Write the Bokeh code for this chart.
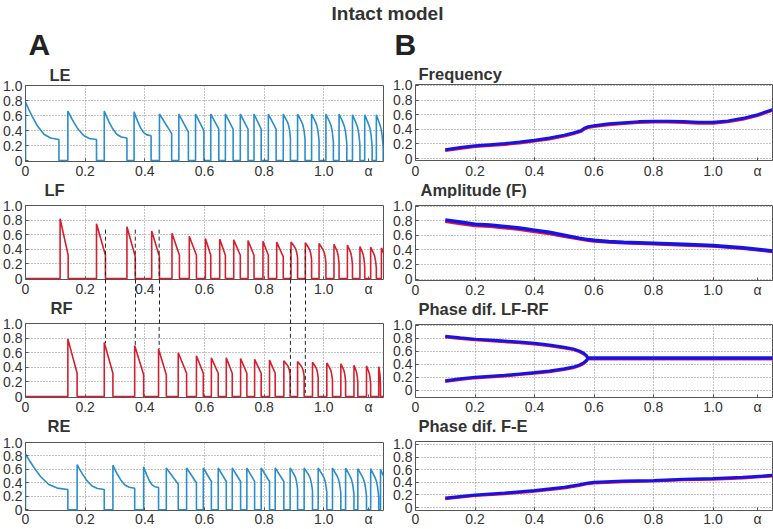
from bokeh.plotting import figure
from bokeh.models import FixedTicker, Range1d, Label, LinearAxis, Title
from bokeh.layouts import column, row
from bokeh.embed import file_html
from bokeh.resources import INLINE

FONT = "Liberation Sans"

# ---------------- axis ticks ----------------
alpha_ticks = [0, 0.2, 0.4, 0.6, 0.8, 1.0, 1.15]
alpha_tick_labels = ["0", "0.2", "0.4", "0.6", "0.8", "1.0", "α"]
alpha_grid = [0.2, 0.4, 0.6, 0.8, 1.0]
y_ticks = [0, 0.2, 0.4, 0.6, 0.8, 1.0]
y_tick_labels = ["0", "0.2", "0.4", "0.6", "0.8", "1.0"]

# ---------------- panel A: burst data ----------------
LE_on = [0.0, 0.142, 0.264, 0.364, 0.449, 0.514, 0.570, 0.621, 0.670, 0.720, 0.766, 0.814, 0.864, 0.912, 0.959, 1.007, 1.051, 1.096, 1.137, 1.176]
LE_off = [0.112, 0.238, 0.340, 0.421, 0.490, 0.546, 0.598, 0.648, 0.696, 0.746, 0.790, 0.840, 0.888, 0.937, 0.984, 1.032, 1.077, 1.121, 1.162, 1.199]
LE_peak = [0.78, 0.66, 0.66, 0.65, 0.62, 0.62, 0.62, 0.62, 0.62, 0.62, 0.62, 0.62, 0.62, 0.62, 0.62, 0.62, 0.62, 0.61, 0.61, 0.61]
LE_end = [0.28, 0.28, 0.30, 0.33, 0.36, 0.38, 0.40, 0.42, 0.42, 0.42, 0.42, 0.42, 0.30, 0.28, 0.26, 0.24, 0.22, 0.20, 0.18, 0.16]
LE_shape = ["exp", "exp", "exp", "exp", "lin", "lin", "lin", "lin", "lin", "lin", "lin", "lin",
            "round", "round", "round", "round", "round", "round", "round", "round"]

LF_on = [0.116, 0.238, 0.340, 0.423, 0.491, 0.549, 0.603, 0.651, 0.698, 0.746, 0.796, 0.842, 0.890, 0.938, 0.984, 1.034, 1.079, 1.121, 1.157, 1.193]
LF_off = [0.143, 0.268, 0.368, 0.449, 0.516, 0.573, 0.621, 0.670, 0.720, 0.766, 0.814, 0.864, 0.912, 0.959, 1.007, 1.051, 1.096, 1.137, 1.176, 1.210]
LF_peak = [0.82, 0.75, 0.71, 0.65, 0.62, 0.58, 0.55, 0.54, 0.53, 0.52, 0.51, 0.50, 0.50, 0.49, 0.48, 0.47, 0.46, 0.44, 0.43, 0.42]
LF_end = [0.32, 0.32, 0.30, 0.30, 0.32, 0.32, 0.32, 0.32, 0.32, 0.32, 0.32, 0.30, 0.28, 0.26, 0.22, 0.20, 0.18, 0.16, 0.14, 0.12]
LF_shape = ["lin"] * 12 + ["round"] * 8

RF_on = [0.142, 0.264, 0.366, 0.446, 0.512, 0.573, 0.623, 0.673, 0.721, 0.768, 0.818, 0.866, 0.912, 0.962, 1.010, 1.057, 1.101, 1.143, 1.184]
RF_off = [0.173, 0.293, 0.396, 0.472, 0.540, 0.596, 0.646, 0.693, 0.742, 0.790, 0.837, 0.887, 0.934, 0.981, 1.029, 1.073, 1.114, 1.157, 1.190]
RF_peak = [0.79, 0.74, 0.70, 0.65, 0.60, 0.56, 0.53, 0.53, 0.52, 0.51, 0.50, 0.49, 0.48, 0.47, 0.46, 0.45, 0.43, 0.42, 0.41]
RF_end = [0.32, 0.32, 0.30, 0.30, 0.32, 0.32, 0.32, 0.32, 0.32, 0.32, 0.32, 0.30, 0.28, 0.26, 0.22, 0.20, 0.18, 0.16, 0.14]
RF_shape = ["lin"] * 11 + ["round"] * 8

RE_on = [0.0, 0.173, 0.293, 0.396, 0.472, 0.540, 0.596, 0.646, 0.693, 0.742, 0.790, 0.837, 0.887, 0.934, 0.981, 1.029, 1.073, 1.114, 1.157, 1.190]
RE_off = [0.142, 0.264, 0.366, 0.446, 0.512, 0.573, 0.623, 0.673, 0.721, 0.768, 0.818, 0.866, 0.912, 0.962, 1.010, 1.057, 1.101, 1.143, 1.184, 1.215]
RE_peak = [0.83, 0.67, 0.66, 0.64, 0.62, 0.62, 0.62, 0.62, 0.62, 0.62, 0.62, 0.62, 0.62, 0.62, 0.62, 0.62, 0.62, 0.61, 0.61, 0.60]
RE_end = [0.30, 0.30, 0.32, 0.33, 0.38, 0.40, 0.42, 0.42, 0.42, 0.42, 0.42, 0.42, 0.30, 0.28, 0.26, 0.24, 0.22, 0.20, 0.18, 0.16]
RE_shape = ["exp", "exp", "exp", "exp", "lin", "lin", "lin", "lin", "lin", "lin", "lin", "lin",
            "round", "round", "round", "round", "round", "round", "round", "round"]

# normalized burst profiles: (fraction of burst, fraction of peak->end drop)
PROFILES = {
    "exp": ([0.0, 0.1, 0.2, 0.36, 0.55, 0.75, 1.0], [1.0, 0.8, 0.62, 0.36, 0.14, 0.04, 0.0]),
    "lin": ([0.0, 1.0], [1.0, 0.0]),
    "round": ([0.0, 0.5, 0.7, 0.85, 0.95, 1.0], [1.0, 0.72, 0.58, 0.38, 0.15, 0.0]),
}

# dashed connector lines between LF and RF
dash_x = [0.268, 0.368, 0.448, 0.888, 0.938]
dash_top_LF = [0.67, 0.67, 0.67, 0.40, 0.40]
dash_bottom_RF = [0.73, 0.70, 0.65, 0.05, 0.05]

# ---------------- panel B data ----------------
freq_alpha = [0.1, 0.15, 0.2, 0.25, 0.3, 0.35, 0.4, 0.45, 0.5, 0.53, 0.555, 0.57, 0.58, 0.6, 0.65, 0.7, 0.75, 0.8, 0.85, 0.9, 0.95, 1.0, 1.05, 1.1, 1.15, 1.2]
freq_blue = [0.12, 0.15, 0.175, 0.19, 0.205, 0.225, 0.25, 0.28, 0.32, 0.35, 0.38, 0.42, 0.435, 0.45, 0.475, 0.49, 0.505, 0.51, 0.51, 0.505, 0.495, 0.495, 0.515, 0.55, 0.60, 0.67]
freq_red = [0.105, 0.135, 0.16, 0.175, 0.19, 0.21, 0.235, 0.265, 0.305, 0.335, 0.365, 0.405, 0.42, 0.435, 0.46, 0.475, 0.49, 0.495, 0.495, 0.49, 0.48, 0.48, 0.50, 0.535, 0.585, 0.655]

amp_alpha = [0.1, 0.15, 0.2, 0.25, 0.3, 0.35, 0.4, 0.45, 0.5, 0.55, 0.58, 0.6, 0.65, 0.7, 0.8, 0.9, 1.0, 1.1, 1.2]
amp_blue = [0.81, 0.78, 0.75, 0.74, 0.72, 0.70, 0.67, 0.64, 0.60, 0.56, 0.54, 0.53, 0.515, 0.505, 0.49, 0.475, 0.46, 0.43, 0.385]
amp_red = [0.785, 0.755, 0.725, 0.715, 0.695, 0.675, 0.645, 0.615, 0.58, 0.545, 0.525, 0.515, 0.50, 0.49, 0.475, 0.46, 0.445, 0.415, 0.37]

ph_alpha = [0.1, 0.15, 0.2, 0.25, 0.3, 0.35, 0.4, 0.45, 0.5, 0.53, 0.55, 0.565, 0.575, 0.58, 0.6, 0.8, 1.0, 1.2]
ph_upper_blue = [0.835, 0.81, 0.79, 0.775, 0.76, 0.745, 0.725, 0.70, 0.665, 0.64, 0.61, 0.575, 0.535, 0.5, 0.5, 0.5, 0.5, 0.5]
ph_lower_blue = [0.15, 0.18, 0.205, 0.22, 0.235, 0.255, 0.275, 0.30, 0.335, 0.36, 0.39, 0.425, 0.465, 0.5, 0.5, 0.5, 0.5, 0.5]
ph_upper_red = [0.82, 0.795, 0.775, 0.76, 0.745, 0.73, 0.71, 0.685, 0.65, 0.625, 0.595, 0.56, 0.52, 0.485, 0.485, 0.485, 0.485, 0.485]
ph_lower_red = [0.135, 0.165, 0.19, 0.205, 0.22, 0.24, 0.26, 0.285, 0.32, 0.345, 0.375, 0.41, 0.45, 0.485, 0.485, 0.485, 0.485, 0.485]

fe_alpha = [0.1, 0.2, 0.3, 0.4, 0.5, 0.55, 0.58, 0.6, 0.7, 0.8, 0.9, 1.0, 1.1, 1.2]
fe_blue = [0.15, 0.20, 0.23, 0.27, 0.32, 0.36, 0.39, 0.40, 0.42, 0.43, 0.45, 0.46, 0.48, 0.51]
fe_red = [0.135, 0.185, 0.215, 0.255, 0.305, 0.345, 0.375, 0.385, 0.405, 0.415, 0.435, 0.445, 0.465, 0.495]

BLUE_A = "#2a8dcc"
RED_A = "#d4202e"
BLUE_B = "#1414e8"
RED_B = "#e8103c"
DASH_COLOR = "#222222"
DASH = "4 3"


def build_trace(on, off, peak, end, shape):
    xs, ys = [0.0], [0.0]
    for o, f, pk, en, sh in zip(on, off, peak, end, shape):
        xs.append(o); ys.append(0.0)
        fr, vv = PROFILES[sh]
        for a, b in zip(fr, vv):
            xs.append(o + a * (f - o)); ys.append(en + (pk - en) * b)
        xs.append(f); ys.append(0.0)
    xs.append(1.25); ys.append(0.0)
    return xs, ys


def style_title(t, offset):
    t.text_font = FONT
    t.text_font_size = "16.5px"
    t.text_font_style = "bold"
    t.text_color = "#333333"
    t.align = "left"
    t.offset = offset


def make_panel(width, top, frame_h, bottom, left, right, yr, ygrid, xstandoff=1,
               title=None, title_offset=0):
    height = top + frame_h + bottom
    p = figure(width=width, height=height, x_range=Range1d(0, 1.2), y_range=Range1d(*yr),
               output_backend="svg", toolbar_location=None,
               min_border_left=left, min_border_right=right, min_border_top=top,
               min_border_bottom=bottom)
    if title is not None:
        p.title.text = title
        style_title(p.title, title_offset)
        p.title.standoff = 4
    p.outline_line_color = "#555555"
    p.outline_line_width = 1
    p.background_fill_color = "white"
    p.border_fill_color = "white"
    for ax in (p.xaxis[0], p.yaxis[0]):
        ax.axis_line_color = None
        ax.major_tick_in = 3
        ax.major_tick_out = 0
        ax.minor_tick_line_color = None
        ax.major_tick_line_color = "#555555"
        ax.major_label_text_font = FONT
        ax.major_label_text_font_size = "14px"
        ax.major_label_text_color = "#333333"
    p.xaxis.ticker = FixedTicker(ticks=alpha_ticks)
    p.xaxis.major_label_overrides = {t: s for t, s in zip(alpha_ticks, alpha_tick_labels)}
    p.xaxis.major_label_standoff = xstandoff
    p.yaxis.ticker = FixedTicker(ticks=y_ticks)
    p.yaxis.major_label_overrides = {t: s for t, s in zip(y_ticks, y_tick_labels)}
    p.yaxis.major_label_standoff = 3
    p.xgrid.ticker = FixedTicker(ticks=alpha_grid)
    p.ygrid.ticker = FixedTicker(ticks=ygrid)
    for g in (p.xgrid[0], p.ygrid[0]):
        g.grid_line_color = "#8a8a8a"
        g.grid_line_dash = "1 2"
        g.grid_line_width = 1
    return p


def add_next_title(p, text, offset):
    # the title of the panel underneath, placed in this figure's bottom border
    t = Title(text=text)
    style_title(t, offset)
    t.standoff = -3
    t.vertical_align = "middle"
    p.add_layout(t, "below")


def dash_axis(reach):
    # unlabeled tick marks reaching outward across the gap between the LF and RF panels
    ax = LinearAxis(ticker=FixedTicker(ticks=dash_x))
    ax.axis_line_color = None
    ax.minor_tick_line_color = None
    ax.major_tick_out = 0
    ax.major_tick_in = -reach
    ax.major_tick_line_color = DASH_COLOR
    ax.major_tick_line_dash = DASH
    ax.major_label_overrides = {t: "" for t in dash_x}
    ax.major_label_text_font_size = "1px"
    ax.major_label_text_color = None
    ax.major_label_standoff = 0
    return ax


# ---------------- header ----------------
header = figure(width=773, height=60, x_range=Range1d(0, 773), y_range=Range1d(60, 0),
                output_backend="svg", toolbar_location=None, min_border=0)
header.axis.visible = False
header.grid.visible = False
header.outline_line_color = None
header.add_layout(Label(x=387, y=13, text="Intact model", text_font=FONT, text_font_size="19px",
                        text_font_style="bold", text_color="#333333", text_align="center",
                        text_baseline="middle", text_line_height=1.0))
header.add_layout(Label(x=28, y=44, text="A", text_font=FONT, text_font_size="30px",
                        text_font_style="bold", text_color="#222222", text_align="left",
                        text_baseline="middle", text_line_height=1.0))
header.add_layout(Label(x=394, y=44, text="B", text_font=FONT, text_font_size="30px",
                        text_font_style="bold", text_color="#222222", text_align="left",
                        text_baseline="middle", text_line_height=1.0))

A_grid = [0.2, 0.4, 0.6, 0.8]
B_grid = [0, 0.2, 0.4, 0.6, 0.8, 1.0]

# ---------------- column A ----------------
pLE = make_panel(390, 25, 76, 37, 23, 7, (-0.012, 1.0), A_grid, title="LE", title_offset=24)
pLF = make_panel(390, 7, 74, 37, 23, 7, (-0.012, 1.0), A_grid)
pRF = make_panel(390, 7, 74, 38, 23, 7, (-0.012, 1.0), A_grid)
pRE = make_panel(390, 7, 70, 17, 23, 7, (-0.012, 1.0), A_grid, xstandoff=0)

for p, (on, off, pk, en, sh), col in [
    (pLE, (LE_on, LE_off, LE_peak, LE_end, LE_shape), BLUE_A),
    (pLF, (LF_on, LF_off, LF_peak, LF_end, LF_shape), RED_A),
    (pRF, (RF_on, RF_off, RF_peak, RF_end, RF_shape), RED_A),
    (pRE, (RE_on, RE_off, RE_peak, RE_end, RE_shape), BLUE_A),
]:
    xs, ys = build_trace(on, off, pk, en, sh)
    p.line(xs, ys, line_color=col, line_width=1.6)

# dashed connectors: inside LF frame, across the gap (tick marks), inside RF frame
pLF.segment(x0=dash_x, y0=dash_top_LF, x1=dash_x, y1=[-0.05] * len(dash_x),
            line_color=DASH_COLOR, line_width=1, line_dash=DASH)
pLF.below = [dash_axis(50)] + list(pLF.below)
pRF.segment(x0=dash_x, y0=[1.05] * len(dash_x), x1=dash_x, y1=dash_bottom_RF,
            line_color=DASH_COLOR, line_width=1, line_dash=DASH)
pRF.add_layout(dash_axis(12), "above")

add_next_title(pLE, "LF", 19)
add_next_title(pLF, "RF", 25)
add_next_title(pRF, "RE", 22)

# ---------------- column B ----------------
pFR = make_panel(383, 24, 78, 36, 25, 1, (-0.027, 1.013), B_grid, xstandoff=2,
                 title="Frequency", title_offset=3)
pAM = make_panel(383, 7, 75, 37, 25, 1, (-0.02, 1.007), B_grid)
pP1 = make_panel(383, 7, 73, 37, 25, 1, (-0.108, 1.015), B_grid)
pP2 = make_panel(383, 7, 70, 18, 25, 1, (-0.047, 1.047), B_grid, xstandoff=0)

add_next_title(pFR, "Amplitude (F)", 5)
add_next_title(pAM, "Phase dif. LF-RF", 3)
add_next_title(pP1, "Phase dif. F-E", 3)

pFR.line(freq_alpha, freq_red, line_color=RED_B, line_width=2.5)
pFR.line(freq_alpha, freq_blue, line_color=BLUE_B, line_width=3)
pAM.line(amp_alpha, amp_red, line_color=RED_B, line_width=2.5)
pAM.line(amp_alpha, amp_blue, line_color=BLUE_B, line_width=3.5)
pP1.line(ph_alpha, ph_upper_red, line_color=RED_B, line_width=2.5)
pP1.line(ph_alpha, ph_lower_red, line_color=RED_B, line_width=2.5)
pP1.line(ph_alpha, ph_upper_blue, line_color=BLUE_B, line_width=3)
pP1.line(ph_alpha, ph_lower_blue, line_color=BLUE_B, line_width=3)
pP2.line(fe_alpha, fe_red, line_color=RED_B, line_width=2.5)
pP2.line(fe_alpha, fe_blue, line_color=BLUE_B, line_width=3)

colA = column(pLE, pLF, pRF, pRE, spacing=0)
colB = column(pFR, pAM, pP1, pP2, spacing=0)
root = column(header, row(colA, colB, spacing=0), spacing=0)

open("out.html", "w").write(file_html(root, INLINE))
